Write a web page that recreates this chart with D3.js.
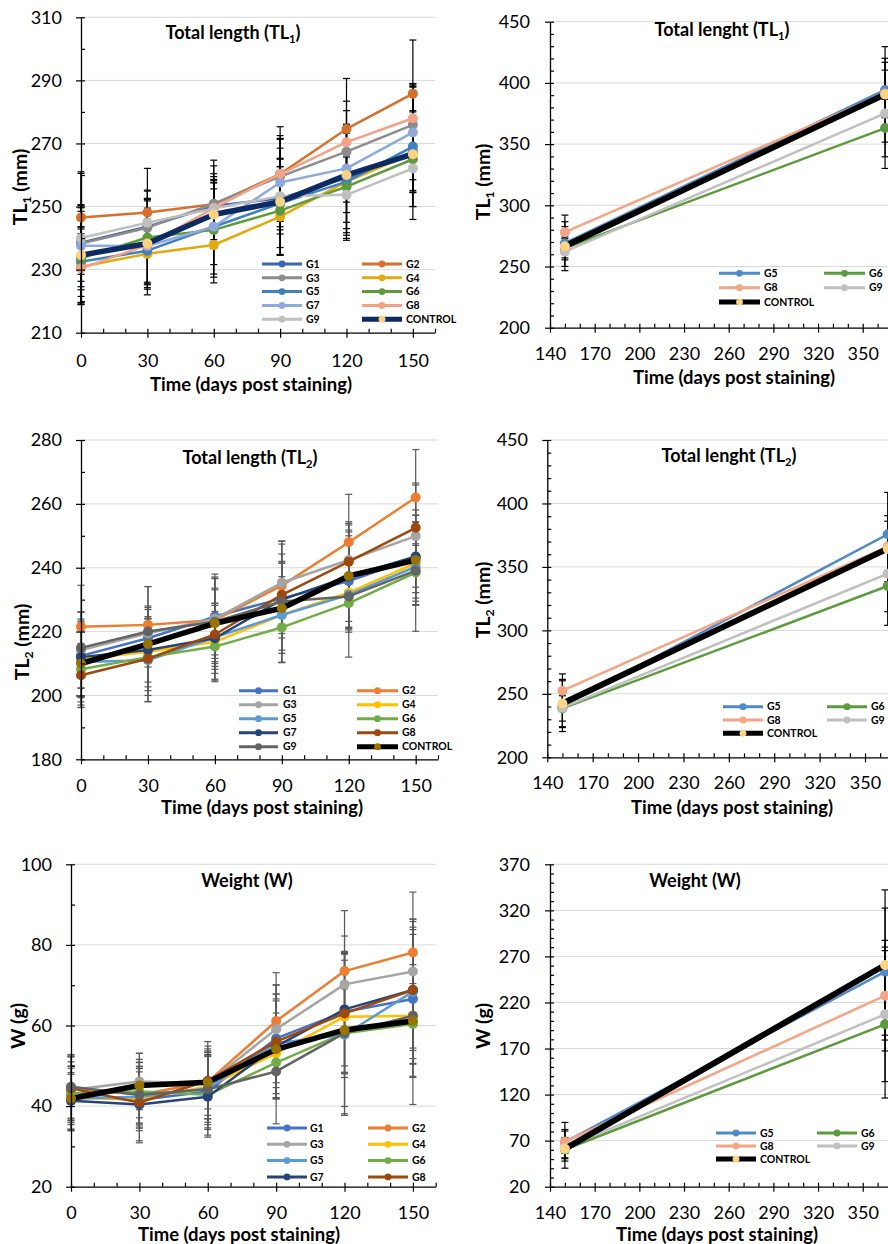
<!DOCTYPE html>
<html><head><meta charset="utf-8">
<script src="https://cdn.jsdelivr.net/npm/d3@7"></script>
<style>body{margin:0;background:#fff} svg{display:block} text{font-family:Lato,"Open Sans",sans-serif}</style>
</head><body><svg id="c" width="888" height="1244"></svg>
<script>
// ---------- DATA ----------
const daysShort = [0, 30, 60, 90, 120, 150];
const daysLong = [150, 365];
const groupsAll = ["G1","G2","G3","G4","G5","G6","G7","G8","G9","CONTROL"];
const groupsLong = ["G5","G6","G8","G9","CONTROL"];

const xTicksShort = [0, 30, 60, 90, 120, 150];
const xTicksLong = [140, 170, 200, 230, 260, 290, 320, 350];
const yTicksTL1 = [210, 230, 250, 270, 290, 310];
const yTicksTL1Long = [200, 250, 300, 350, 400, 450];
const yTicksTL2 = [180, 200, 220, 240, 260, 280];
const yTicksTL2Long = [200, 250, 300, 350, 400, 450];
const yTicksW = [20, 40, 60, 80, 100];
const yTicksWLong = [20, 70, 120, 170, 220, 270, 320, 370];

const tl1Mean = [
  [238.5,243.6,250.2,252.6,259,267.4],
  [246.5,248.1,250.7,260.3,274.6,285.8],
  [238.3,243.3,250.9,259.5,267.4,275.9],
  [230.9,235,237.8,246.8,257.9,266.9],
  [232.5,236,243.6,251,257.9,269],
  [233.6,240.2,242.6,248.7,256.3,265],
  [237.6,237.5,243.6,257.6,262.1,273.5],
  [230.4,237.8,249.5,260.3,270.4,278],
  [240,244.9,249.4,253.3,253.7,262.1],
  [234.6,238.3,247.5,251.5,260,266.6]
];
const tl1Sd = [
  [10,9,8,10,16,13],[14,14,14,15,16,17],[12,9,12,13,16,13],[12,13,12,12,18,21],
  [11,10,15,14,17,19],[10,15,15,14,17,15],[13,12,12,14,14,15],[11,14,10,11,10,11],
  [21,10,11,12,12,7],[15,14,10,17,15,12]
];
const tl2Mean = [
  [212.4,217.9,224.7,230.4,235.8,243.2],
  [221.5,222.1,223.6,234.4,248,262],
  [214.2,219.5,224,235.3,242.4,249.9],
  [211.3,213.7,216.8,225.2,232.2,241.4],
  [210.5,211,218.2,225.2,231.5,240.3],
  [208.2,212,215.3,221.3,228.9,238.5],
  [212,214.2,217.9,230,237.2,243.5],
  [206.3,211.5,219.1,231.5,241.9,252.5],
  [214.9,220,223.1,229.4,231,239.1],
  [210,216.1,222.6,227.3,237.4,242.4]
];
const tl2Sd = [
  [10,9,12,11,16,11],[13,12,13,13,15,15],[12,8,14,13,12,16],[12,11,12,12,11,13],
  [11,13,10,11,11,12],[12,12,11,11,8,9],[14,10,11,12,14,13],[10,10,14,10,12,14],
  [9,8,14,19,19,19],[13,18,11,17,16,14]
];
const wMean = [
  [42.4,41.5,43.6,56.8,63.4,66.6],
  [44.4,42.8,46,61.1,73.5,78.1],
  [44,46.1,45.7,59.1,70.2,73.4],
  [41.9,41.9,44.8,53.1,62.2,62.4],
  [41.9,42.3,44.4,55.6,57.7,68.4],
  [43.2,43.6,42.8,50.8,58.1,60.4],
  [41.3,40.4,42.3,54.8,64,68.8],
  [44.4,40.9,46.3,56,63,68.8],
  [44.8,42.8,44.2,48.6,58.1,62.4],
  [41.9,45.1,45.9,54.1,58.9,61.1]
];
const wSd = [
  [7,7,9,11,15,16],[8,8,10,12,15,15],[7,7,8,11,12,13],[8,8,8,10,14,8],
  [6,7,9,11,20,18],[9,8,10,9,11,13],[7,9,10,13,14,15],[8,10,7,14,15,17],
  [8,7,10,13,20,22],[8,8,9,12,19,14]
];
const tl1LongMean = [[269,394.2],[265,363.1],[278,391.4],[262.1,375.1],[266.6,390.6]];
const tl1LongSd = [[13.6,22.6],[8,23.5],[14,19],[12,45],[20,39]];
const tl2LongMean = [[240.3,375.7],[238.5,335],[252.5,366],[239.1,344.7],[242.4,364.4]];
const tl2LongSd = [[20,33],[10,31],[13.2,20],[15,30],[19,26]];
const wLongMean = [[68.4,253.5],[60.4,196.3],[68.8,227.4],[62.4,207.1],[61.1,260.7]];
const wLongSd = [[12,69],[10,80],[21,60],[11,73],[21,81.5]];

// ---------- STYLES ----------
const colorsTL1 = ["#3B64B4","#D5702F","#8C8C8C","#E2AA0E","#3F80C1","#5E9A3B","#8FA9DC","#F2A285","#BFBFBF","#0C2B63"];
const colorsStd = ["#4472C4","#ED7D31","#A5A5A5","#FFC000","#5B9BD5","#70AD47","#264478","#9E480E","#636363","#000000"];
const colorsLong = ["#4E8AC8","#5B9B3C","#F3A584","#C0C0C0","#000000"];
const FONT = "Lato, 'Open Sans', sans-serif";
const TICK_FS = 18, XTITLE_FS = 18.5, YTITLE_FS = 19.5, TITLE_FS = 18, LEG_FS = 10.5;

const svg = d3.select("#c");
svg.append("rect").attr("width",888).attr("height",1244).attr("fill","#fff");

function richText(sel, parts, size){
  let shifted = false;
  parts.forEach(([t, sub]) => {
    const ts = sel.append("tspan").text(t);
    if (sub) { ts.attr("font-size", size*0.62).attr("dy", size*0.22); shifted = true; }
    else if (shifted) { ts.attr("dy", -size*0.22); shifted = false; }
  });
}

function panel(cfg){
  const g = svg.append("g");
  const x = d3.scaleLinear().domain(cfg.xDomain).range(cfg.xRange);
  const y = d3.scaleLinear().domain(cfg.yDomain).range(cfg.yRange);
  const ax = cfg.xRange[0], ay = cfg.yRange[0], right = cfg.xRange[1];

  // gridlines
  g.append("g").selectAll("line").data(cfg.yTicks.slice(1)).join("line")
    .attr("x1", ax).attr("x2", right).attr("y1", d=>y(d)).attr("y2", d=>y(d))
    .attr("stroke", "#d9d9d9").attr("stroke-width", 1);

  // error bars
  const eb = g.append("g").attr("stroke", cfg.errColor).attr("stroke-width", 1.2);
  cfg.mean.forEach((arr, si) => {
    arr.forEach((m, i) => {
      const s = cfg.sd[si][i];
      const cx = x(cfg.days[i]);
      eb.append("line").attr("x1",cx).attr("x2",cx).attr("y1",y(m-s)).attr("y2",y(m+s));
      [m-s, m+s].forEach(v => eb.append("line").attr("x1",cx-3.5).attr("x2",cx+3.5).attr("y1",y(v)).attr("y2",y(v)));
    });
  });

  // series
  const line = d3.line().x((d,i)=>x(cfg.days[i])).y(d=>y(d));
  const nS = cfg.mean.length;
  cfg.mean.forEach((arr, si) => {
    const isC = si === nS-1;
    const col = cfg.colors[si];
    const mcol = isC ? cfg.controlMarker : col;
    g.append("path").datum(arr).attr("d", line).attr("fill","none")
      .attr("stroke", col).attr("stroke-width", isC ? cfg.controlWidth : 2.5)
      .attr("stroke-linejoin","round");
    g.append("g").selectAll("circle").data(arr).join("circle")
      .attr("cx", (d,i)=>x(cfg.days[i])).attr("cy", d=>y(d)).attr("r", 5).attr("fill", mcol);
  });

  // axes
  const minorY = d3.range(cfg.yDomain[0], cfg.yDomain[1]+0.001, cfg.yMinor).filter(v=>!cfg.yTicks.includes(v));
  const minorX = d3.range(cfg.xDomain[0], cfg.xDomain[1]+0.001, 10).filter(v=>!cfg.xTicks.includes(v));
  const styleAxis = s => { s.selectAll("line").attr("stroke","#000").attr("stroke-width",1.2); s.selectAll(".domain").attr("stroke","#000").attr("stroke-width",1.3); };

  g.append("g").attr("transform",`translate(${ax},0)`)
    .call(d3.axisLeft(y).tickValues(minorY).tickSize(-4).tickSizeOuter(0).tickFormat(""))
    .call(s=>s.select(".domain").remove()).call(styleAxis);
  g.append("g").attr("transform",`translate(${ax},0)`)
    .call(d3.axisLeft(y).tickValues(cfg.yTicks).tickSize(-4).tickSizeOuter(0).tickFormat(""))
    .call(s=>s.select(".domain").remove()).call(styleAxis);
  const ya = g.append("g").attr("transform",`translate(${ax},0)`)
    .call(d3.axisLeft(y).tickValues(cfg.yTicks).tickSize(5).tickSizeOuter(0).tickPadding(ax - cfg.yLabelRight - 5))
    .call(styleAxis);
  ya.selectAll("text").attr("font-size",TICK_FS).attr("font-family",FONT).attr("fill","#000");

  g.append("g").attr("transform",`translate(0,${ay})`)
    .call(d3.axisBottom(x).tickValues(minorX).tickSize(-4).tickSizeOuter(0).tickFormat(""))
    .call(s=>s.select(".domain").remove()).call(styleAxis);
  g.append("g").attr("transform",`translate(0,${ay})`)
    .call(d3.axisBottom(x).tickValues(cfg.xTicks).tickSize(-4).tickSizeOuter(0).tickFormat(""))
    .call(s=>s.select(".domain").remove()).call(styleAxis);
  const xa = g.append("g").attr("transform",`translate(0,${ay})`)
    .call(d3.axisBottom(x).tickValues(cfg.xTicks).tickSize(5).tickSizeOuter(0))
    .call(styleAxis);
  xa.selectAll("text").attr("font-size",TICK_FS).attr("font-family",FONT).attr("fill","#000")
    .attr("y", cfg.xLabelY - ay).attr("dy","0.35em");

  // titles
  const t = g.append("text").attr("x", cfg.title.x).attr("y", cfg.title.y).attr("dy","0.35em")
    .attr("text-anchor","middle").attr("font-weight","bold").attr("font-size",TITLE_FS);
  richText(t, cfg.title.parts, TITLE_FS);

  g.append("text").attr("x", cfg.xTitle[0]).attr("y", cfg.xTitle[1]).attr("dy","0.35em")
    .attr("text-anchor","middle").attr("font-weight","bold").attr("font-size",XTITLE_FS)
    .text("Time (days post staining)");

  const yt = g.append("text").attr("transform",`translate(${cfg.yTitle.x},${cfg.yTitle.y}) rotate(-90)`)
    .attr("dy","0.35em").attr("text-anchor","middle").attr("font-weight","bold").attr("font-size",YTITLE_FS);
  richText(yt, cfg.yTitle.parts, YTITLE_FS);

  // legend
  const lg = g.append("g");
  cfg.groups.slice(0, cfg.legendCount).forEach((name, i) => {
    const col = i % 2, row = Math.floor(i/2);
    const ly = cfg.legend.y0 + row*cfg.legend.dy;
    const [x1, x2, lx] = cfg.legend.cols[col];
    const isC = name === "CONTROL";
    lg.append("line").attr("x1",x1).attr("x2",x2).attr("y1",ly).attr("y2",ly)
      .attr("stroke", cfg.colors[i]).attr("stroke-width", isC ? 5 : 3);
    lg.append("circle").attr("cx",(x1+x2)/2).attr("cy",ly).attr("r",3.4)
      .attr("fill", isC ? cfg.controlMarker : cfg.colors[i]);
    lg.append("text").attr("x",lx).attr("y",ly).attr("dy","0.36em").attr("font-size",LEG_FS)
      .attr("font-weight","bold").text(name);
  });
}

// ---------- PANELS ----------
panel({
  xDomain:[0,160], xRange:[81,435], yDomain:[210,310], yRange:[332.7,17.3],
  yTicks:yTicksTL1, yMinor:10, xTicks:xTicksShort, days:daysShort,
  mean:tl1Mean, sd:tl1Sd, colors:colorsTL1, controlMarker:"#FDD383", controlWidth:5.5, errColor:"#000",
  yLabelRight:62, xLabelY:361, xTitle:[251,385],
  yTitle:{x:20,y:187,parts:[["TL",false],["1",true],[" (mm)",false]]},
  title:{x:233,y:33,parts:[["Total length (TL",false],["1",true],[")",false]]},
  groups:groupsAll, legendCount:10,
  legend:{y0:264,dy:13.8,cols:[[262,302,306],[362,402,406]]}
});
panel({
  xDomain:[140,380], xRange:[550,907.4], yDomain:[200,450], yRange:[327.7,21.7],
  yTicks:yTicksTL1Long, yMinor:10, xTicks:xTicksLong, days:daysLong,
  mean:tl1LongMean, sd:tl1LongSd, colors:colorsLong, controlMarker:"#FFD384", controlWidth:6, errColor:"#000",
  yLabelRight:530, xLabelY:354, xTitle:[734,378],
  yTitle:{x:483,y:182,parts:[["TL",false],["1",true],[" (mm)",false]]},
  title:{x:722,y:30,parts:[["Total lenght (TL",false],["1",true],[")",false]]},
  groups:groupsLong, legendCount:5,
  legend:{y0:273.3,dy:14.4,cols:[[719,760,764],[824,865,869]]}
});
panel({
  xDomain:[0,160], xRange:[81,438], yDomain:[180,280], yRange:[759.3,440],
  yTicks:yTicksTL2, yMinor:10, xTicks:xTicksShort, days:daysShort,
  mean:tl2Mean, sd:tl2Sd, colors:colorsStd, controlMarker:"#997300", controlWidth:5.5, errColor:"#595959",
  yLabelRight:62, xLabelY:785.7, xTitle:[262,808],
  yTitle:{x:22,y:642,parts:[["TL",false],["2",true],[" (mm)",false]]},
  title:{x:250,y:458,parts:[["Total length (TL",false],["2",true],[")",false]]},
  groups:groupsAll, legendCount:10,
  legend:{y0:690.7,dy:14,cols:[[239,278,283],[357,398,402]]}
});
panel({
  xDomain:[140,380], xRange:[547.3,910.4], yDomain:[200,450], yRange:[757.3,440],
  yTicks:yTicksTL2Long, yMinor:10, xTicks:xTicksLong, days:daysLong,
  mean:tl2LongMean, sd:tl2LongSd, colors:colorsLong, controlMarker:"#FFD384", controlWidth:6, errColor:"#000",
  yLabelRight:528, xLabelY:783, xTitle:[732,808],
  yTitle:{x:483,y:600,parts:[["TL",false],["2",true],[" (mm)",false]]},
  title:{x:729,y:456,parts:[["Total lenght (TL",false],["2",true],[")",false]]},
  groups:groupsLong, legendCount:5,
  legend:{y0:706.7,dy:13.3,cols:[[723,763,767],[827,867,871]]}
});
panel({
  xDomain:[0,160], xRange:[71,435.7], yDomain:[20,100], yRange:[1186.7,864.3],
  yTicks:yTicksW, yMinor:10, xTicks:xTicksShort, days:daysShort,
  mean:wMean, sd:wSd, colors:colorsStd, controlMarker:"#997300", controlWidth:5.5, errColor:"#595959",
  yLabelRight:52, xLabelY:1213, xTitle:[239,1235],
  yTitle:{x:18,y:1026,parts:[["W (g)",false]]},
  title:{x:247,y:881,parts:[["Weight (W)",false]]},
  groups:groupsAll, legendCount:8,
  legend:{y0:1128,dy:16.3,cols:[[267,307,310],[368,408,412]]}
});
panel({
  xDomain:[140,380], xRange:[550,907.4], yDomain:[20,370], yRange:[1186.7,864.3],
  yTicks:yTicksWLong, yMinor:10, xTicks:xTicksLong, days:daysLong,
  mean:wLongMean, sd:wLongSd, colors:colorsLong, controlMarker:"#FFD384", controlWidth:6, errColor:"#000",
  yLabelRight:530, xLabelY:1213, xTitle:[717,1235],
  yTitle:{x:483,y:1026,parts:[["W (g)",false]]},
  title:{x:695,y:881,parts:[["Weight (W)",false]]},
  groups:groupsLong, legendCount:5,
  legend:{y0:1133,dy:13,cols:[[716,756,760],[817,857,861]]}
});
</script></body></html>
